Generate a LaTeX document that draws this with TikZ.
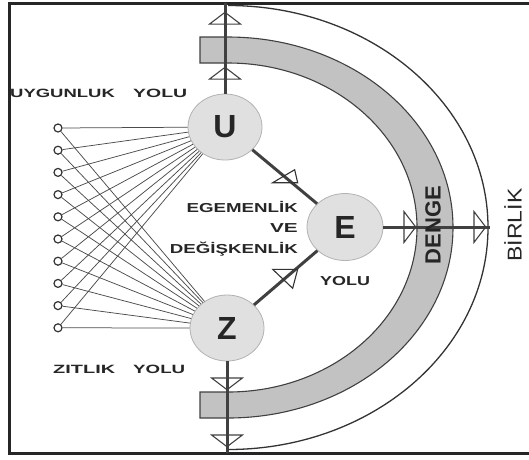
\documentclass[tikz,border=0pt]{standalone}
\usepackage{fontspec}
\setmainfont{Liberation Sans}
\usetikzlibrary{arrows.meta,decorations.markings,shapes.geometric}
\tikzset{opentri/.tip={Triangle[open,length=13pt,width=34pt,line width=1.1pt]}}
\begin{document}
\begin{tikzpicture}[x=1pt,y=-1pt,
  lbl/.style={font=\bfseries\fontsize{12}{12}\selectfont, inner sep=0pt, text=black!85},
  midlbl/.style={font=\bfseries\fontsize{13}{13}\selectfont, inner sep=0pt, text=black!85},
  ball/.style={ellipse, draw=gray!60, line width=0.8pt, fill=gray!24, minimum width=74pt, minimum height=66pt, inner sep=0pt, font=\bfseries\fontsize{32}{32}\selectfont, text=black!85},
  dotc/.style={circle, draw=black!80, line width=1.2pt, minimum size=8pt, inner sep=0pt, fill=white},
  fan/.style={line width=0.75pt, draw=black!70},
  axisline/.style={line width=3pt, draw=black!75},
  band/.style={fill=gray!48, draw=black!75, line width=1.1pt},
  frameline/.style={line width=3pt, draw=black!85},
]
\useasboundingbox (0,0) rectangle (529,459);
% frame
\draw[frameline] (529,3) -- (9,3) -- (9,453) -- (529,453);
% DENGE band
\draw[band] (200,37) -- (228,37) arc[start angle=-90,end angle=90,x radius=225,y radius=190.5]
  -- (200,418) -- (200,392) -- (228,392) arc[start angle=90,end angle=-90,x radius=189,y radius=164.5]
  -- (200,63) -- cycle;
% BIRLIK outer arc
\draw[line width=1.3pt, black!80] (228,5.5) arc[start angle=-90,end angle=90,x radius=260,y radius=222];
% main nodes
\node[ball] (U) at (225,127) {U};
\node[ball] (Z) at (227,328) {Z};
\node[ball, minimum width=76pt, minimum height=67pt] (E) at (345,227) {E};
\coordinate (top) at (225,3);
\coordinate (bot) at (227,453);
\coordinate (rgt) at (490,227);
% left circles and fan lines
\foreach \i in {1,...,10} {
  \node[dotc] (c\i) at (58,{128+22.2*(\i-1)}) {};
}
\foreach \i in {1,...,10} {
  \draw[fan] (c\i) -- (U);
  \draw[fan] (c\i) -- (Z);
}
% axis connectors
\draw[axisline, decoration={markings,
   mark=at position 27pt with {\arrow{opentri}},
   mark=at position 82pt with {\arrow{opentri}}}, postaction=decorate] (U) -- (top);
\draw[axisline, decoration={markings,
   mark=at position 29pt with {\arrow{opentri}},
   mark=at position 86pt with {\arrow{opentri}}}, postaction=decorate] (Z) -- (bot);
\draw[axisline, decoration={markings,
   mark=at position 33pt with {\arrow{opentri}},
   mark=at position 103pt with {\arrow{opentri}}}, postaction=decorate] (E) -- (rgt);
\draw[axisline, decoration={markings,
   mark=at position 0.5 with {\pgftransformresetnontranslations
     \draw[line width=1.1pt, black!80] (-12,6) -- (13,6) -- (10,-7) -- cycle;}}, postaction=decorate] (U) -- (E);
\draw[axisline, decoration={markings,
   mark=at position 0.5 with {\pgftransformresetnontranslations
     \draw[line width=1.1pt, black!80] (-13,-8.5) -- (12,-8.5) -- (7,10.5) -- cycle;}}, postaction=decorate] (Z) -- (E);
% labels
\node[lbl, anchor=base west] (uyg) at (10,97) {\scalebox{1.54}[1]{UYGUNLUK}};
\node[lbl, anchor=base west] (uygy) at (133,97) {\scalebox{1.62}[1]{YOLU}};
\node[lbl, anchor=base west] (zit) at (53,373) {\scalebox{1.66}[1]{ZITLIK}};
\node[lbl, anchor=base west] (zity) at (133,373) {\scalebox{1.56}[1]{YOLU}};
\node[midlbl, anchor=base east] (ege) at (298,212) {\scalebox{1.44}[1]{EGEMENLİK}};
\node[midlbl, anchor=base east] (ve) at (298,232) {\scalebox{1.6}[1]{VE}};
\node[midlbl, anchor=base east] (deg) at (298,253) {\scalebox{1.44}[1]{DEĞİŞKENLİK}};
\node[midlbl, anchor=base west] (ey) at (320,285) {\scalebox{1.38}[1]{YOLU}};
\node[rotate=90, inner sep=0pt, font=\bfseries\fontsize{22}{22}\selectfont, text=black!85] (denge) at (433,225) {DENGE};
\node[rotate=90, inner sep=0pt, font=\fontsize{20}{20}\selectfont, text=black!85] (birlik) at (513,225) {\scalebox{1.15}[1]{BİRLİK}};
\end{tikzpicture}
\end{document}
